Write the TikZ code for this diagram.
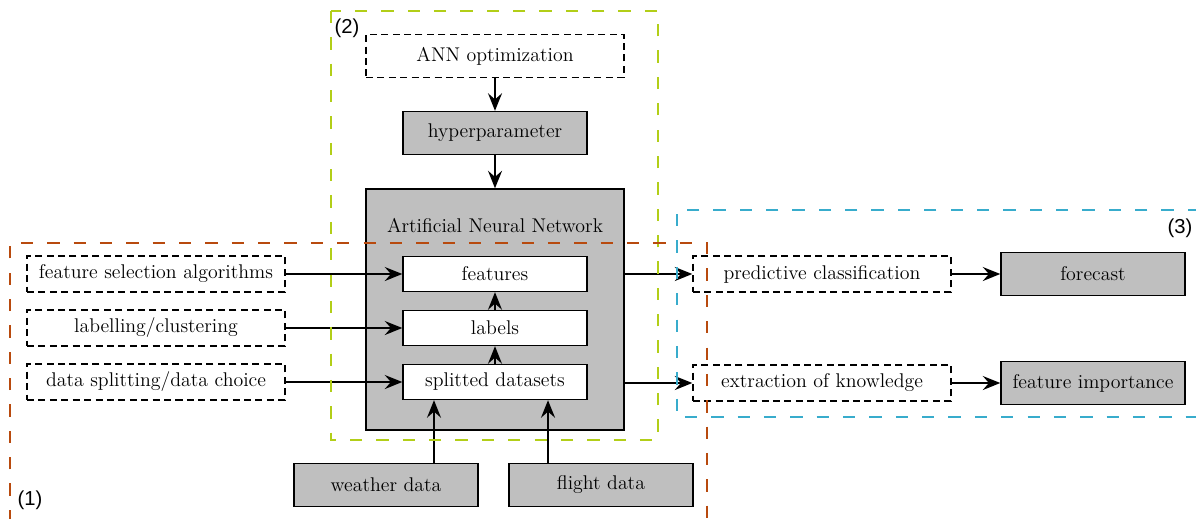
\documentclass[tikz,border=0pt]{standalone}
\usepackage{fontspec}
\newfontfamily\regionfont{Liberation Sans}
\usetikzlibrary{arrows.meta}

\definecolor{boxgray}{RGB}{191,191,191}
\definecolor{regionone}{RGB}{184,74,14}
\definecolor{regiontwo}{RGB}{178,206,24}
\definecolor{regionthree}{RGB}{56,172,204}

\tikzset{
	boxfont/.style={font=\fontsize{11.3}{13}\selectfont},
	solidbox/.style={draw,line width=0.8pt,fill=boxgray,minimum width=3.68cm,minimum height=0.86cm,boxfont},
	innerbox/.style={draw,line width=0.8pt,fill=white,minimum width=3.68cm,minimum height=0.7cm,boxfont},
	dashbox/.style={draw,dash pattern=on 4pt off 2.5pt,line width=0.8pt,fill=white,minimum width=5.16cm,minimum height=0.72cm,boxfont},
	arr/.style={line width=0.8pt,-{Stealth[length=10pt,width=8pt,inset=3.5pt]}},
	region/.style={line width=1.4pt,dash pattern=on 7pt off 8pt},
	regionlabel/.style={font=\regionfont\fontsize{11.5}{13}\selectfont}
}

\begin{document}
\begin{tikzpicture}[x=0.02cm,y=-0.02cm]
\useasboundingbox (0,0) rectangle (1196,518);

%draw network block
			\node[solidbox,minimum width=5.16cm,minimum height=4.82cm] (ann) at (495,309.5) {};
			\node[boxfont] (anntitle) at (495,226) {Artificial Neural Network};
			\node[innerbox] (features) at (495,274) {features};
			\node[innerbox] (labels) at (495,328) {labels};
			\node[innerbox] (split) at (495,382) {splitted datasets};

%draw optimization
			\node[dashbox,minimum height=0.86cm] (annopt) at (495,56) {ANN optimization};
			\node[solidbox] (hyper) at (495,133) {hyperparameter};

%draw inputs
			\node[dashbox] (fsel) at (156,274) {feature selection algorithms};
			\node[dashbox] (clust) at (156,328) {labelling/clustering};
			\node[dashbox] (choice) at (156,382) {data splitting/data choice};
			\node[solidbox] (weather) at (386,485) {weather data};
			\node[solidbox] (flight) at (601,485) {flight data};

%draw outputs
			\node[dashbox] (pred) at (822,274) {predictive classification};
			\node[dashbox] (know) at (822,383) {extraction of knowledge};
			\node[solidbox] (forecast) at (1093,274) {forecast};
			\node[solidbox] (importance) at (1093,383) {feature importance};

%draw arrows
			\draw[arr] (annopt) -- (hyper);
			\draw[arr] (hyper) -- (ann);
			\draw[arr] (split) -- (labels);
			\draw[arr] (labels) -- (features);
			\draw[arr] (fsel) -- (features);
			\draw[arr] (clust) -- (labels);
			\draw[arr] (choice) -- (split);
			\draw[arr] ([xshift=0.96cm]weather.north) -- ([xshift=0.96cm]weather.north |- split.south);
			\draw[arr] ([xshift=-1.06cm]flight.north) -- ([xshift=-1.06cm]flight.north |- split.south);
			\draw[arr] (ann.east |- pred.west) -- (pred.west);
			\draw[arr] (ann.east |- know.west) -- (know.west);
			\draw[arr] (pred) -- (forecast);
			\draw[arr] (know) -- (importance);

%draw regions
			\draw[region,regiontwo] (331,11) rectangle (658,440);
			\draw[region,regionthree] (1200,210) -| (677,417) -- (1200,417);
			\draw[region,regionone] (10,522) |- (707,243) -- (707,522);
			\node[regionlabel] (one) at (30,500) {(1)};
			\node[regionlabel] (two) at (347,28) {(2)};
			\node[regionlabel] (three) at (1180,228) {(3)};

		\end{tikzpicture}
\end{document}
